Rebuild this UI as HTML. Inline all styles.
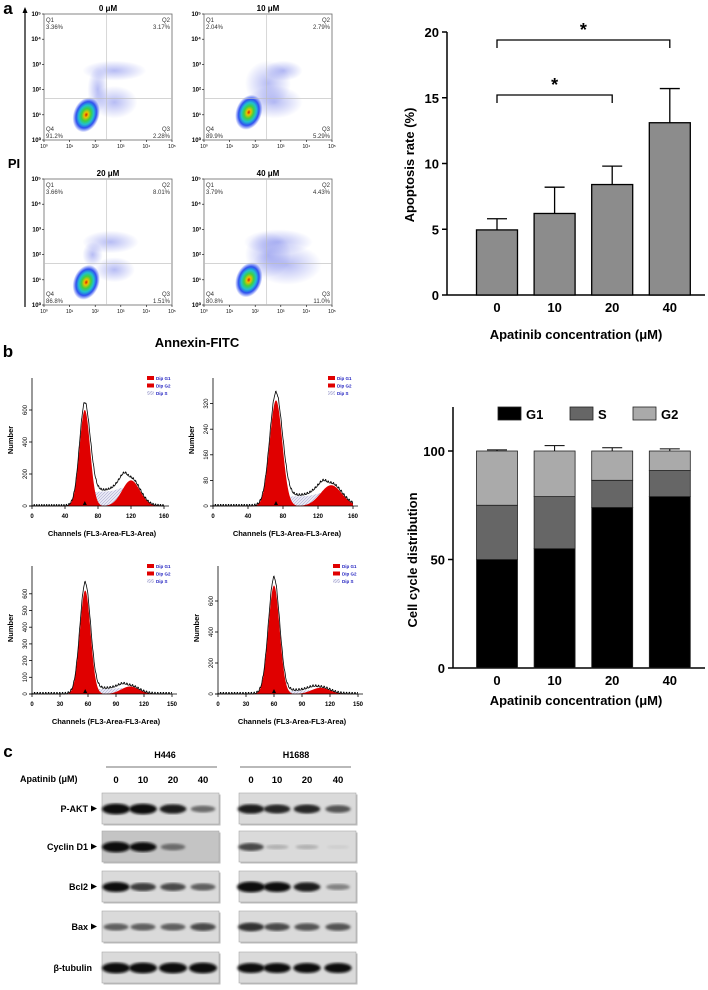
<!DOCTYPE html>
<html><head><meta charset="utf-8"><style>
body{margin:0;background:#fff}
svg{display:block;font-family:"Liberation Sans",Arial,sans-serif}
</style></head><body>
<svg id="fig" width="708" height="990" viewBox="0 0 708 990" xmlns="http://www.w3.org/2000/svg">
<defs>
<radialGradient id="blob"><stop offset="0" stop-color="#d02000"/><stop offset="0.15" stop-color="#f0c000"/><stop offset="0.35" stop-color="#40d040"/><stop offset="0.55" stop-color="#20c0d0"/><stop offset="0.75" stop-color="#3050f0"/><stop offset="1" stop-color="#3050f0" stop-opacity="0"/></radialGradient>
<radialGradient id="cloud"><stop offset="0" stop-color="#3040e0" stop-opacity="0.35"/><stop offset="1" stop-color="#3040e0" stop-opacity="0"/></radialGradient>
<filter id="bl"><feGaussianBlur stdDeviation="1.2"/></filter>
<pattern id="hatch" width="3" height="3" patternUnits="userSpaceOnUse"><rect width="3" height="3" fill="#e8e8f4"/><path d="M0 3L3 0" stroke="#9a9ac8" stroke-width="0.5"/></pattern>
</defs>
<g id="root"></g>
</svg>
<script>
// ---------- data ----------
const apopCats=["0","10","20","40"];
const apopMeans=[4.95,6.2,8.4,13.1];
const apopErr=[0.85,2.0,1.4,2.6];
const apopTicks=[0,5,10,15,20];
const ccCats=["0","10","20","40"];
const ccG1=[50,55,74,79];
const ccS=[25,24,12.5,12];
const ccG2=[25,21,13.5,9];
const ccErrG1=[1,1,1,1.2];
const ccErrS=[1.2,1.2,1,0.6];
const ccErrG2=[0.5,2.5,1.5,1];
const ccTicks=[0,50,100];
const flowTitles=["0 μM","10 μM","20 μM","40 μM"];
const flowQ1=["3.36%","2.04%","3.66%","3.79%"];
const flowQ2=["3.17%","2.79%","8.01%","4.43%"];
const flowQ3=["2.28%","5.29%","1.51%","11.0%"];
const flowQ4=["91.2%","89.9%","86.8%","80.8%"];
const histG1Pos=[64,72,57,60];
const histG1H=[600,330,620,700];
const histG2Pos=[120,135,105,110];
const histG2H=[160,65,45,40];
const histSH=[90,30,30,20];
const blotRows=["P-AKT","Cyclin D1","Bcl2","Bax","β-tubulin"];
const blotH446=[[1,0.95,0.8,0.45],[1,0.85,0.45,0],[0.9,0.65,0.6,0.5],[0.5,0.5,0.5,0.6],[1,1,1,1]];
const blotH1688=[[0.8,0.75,0.75,0.55],[0.6,0.15,0.15,0.02],[1,0.9,0.8,0.35],[0.7,0.6,0.55,0.55],[0.9,0.9,0.9,0.9]];
const blotLanes=["0","10","20","40"];

// ---------- helpers ----------
const NS="http://www.w3.org/2000/svg";
const root=document.getElementById('root');
function el(tag,attrs,parent,text){const e=document.createElementNS(NS,tag);for(const k in attrs)e.setAttribute(k,attrs[k]);if(text!==undefined)e.textContent=text;(parent||root).appendChild(e);return e;}
function txt(x,y,s,size,opts,parent){const o=Object.assign({x:x,y:y,'font-size':size,'text-anchor':'middle',fill:'#000'},opts||{});return el('text',o,parent,s);}
function line(x1,y1,x2,y2,w,c,parent){return el('line',{x1:x1,y1:y1,x2:x2,y2:y2,stroke:c||'#000','stroke-width':w||1},parent);}

let t;
t=txt(8,14,"a",17,{'font-weight':'bold'});
t=txt(8,357,"b",17,{'font-weight':'bold'});
t=txt(8,757,"c",17,{'font-weight':'bold'});

// ---------- flow cytometry ----------
const fg=el('g',{});


line(25,10,25,307,1.2,'#000',fg);
el('path',{d:'M22.5 13 L25 7 L27.5 13Z',fill:'#000'},fg);
t=txt(14,168,"PI",13,{'font-weight':'bold'},fg);
t=txt(197,347,"Annexin-FITC",13,{'font-weight':'bold'},fg);
const boxes=[[44,14],[204,14],[44,179],[204,179]];
const bw=128,bh=126;
const blobs=[[0.33,0.8,[[0.55,0.45,0.25,0.08],[0.42,0.6,0.08,0.18],[0.55,0.7,0.18,0.13]]],
 [0.35,0.78,[[0.62,0.45,0.15,0.08],[0.5,0.55,0.18,0.18],[0.55,0.7,0.22,0.13]]],
 [0.33,0.82,[[0.52,0.5,0.22,0.09],[0.38,0.6,0.08,0.1],[0.55,0.72,0.16,0.1]]],
 [0.35,0.8,[[0.58,0.5,0.27,0.1],[0.65,0.68,0.27,0.16],[0.5,0.6,0.18,0.18]]]];
boxes.forEach((b,i)=>{
  const g=el('g',{},fg);
  
  
  const [x,y]=b;
  el('rect',{x:x,y:y,width:bw,height:bh,fill:'#fff',stroke:'#666','stroke-width':0.8},g);
  blobs[i][2].forEach(c=>el('ellipse',{cx:x+c[0]*bw,cy:y+c[1]*bh,rx:c[2]*bw,ry:c[3]*bh,fill:'url(#cloud)'},g));
  const bx=x+blobs[i][0]*bw,by=y+blobs[i][1]*bh;
  el('ellipse',{cx:bx,cy:by,rx:13,ry:18,fill:'url(#blob)',transform:`rotate(20 ${bx} ${by})`},g);
  line(x+0.49*bw,y,x+0.49*bw,y+bh,0.6,'#bbb',g);
  line(x,y+0.67*bh,x+bw,y+0.67*bh,0.6,'#bbb',g);
  const tt=txt(x+bw/2,y-3,flowTitles[i],8,{'font-weight':'bold'},g);
  
  
  txt(x+2,y+8,"Q1",6,{'text-anchor':'start',fill:'#333'},g);
  txt(x+2,y+15,flowQ1[i],6,{'text-anchor':'start',fill:'#333'},g);
  txt(x+bw-2,y+8,"Q2",6,{'text-anchor':'end',fill:'#333'},g);
  txt(x+bw-2,y+15,flowQ2[i],6,{'text-anchor':'end',fill:'#333'},g);
  txt(x+2,y+bh-9,"Q4",6,{'text-anchor':'start',fill:'#333'},g);
  txt(x+2,y+bh-2,flowQ4[i],6,{'text-anchor':'start',fill:'#333'},g);
  txt(x+bw-2,y+bh-9,"Q3",6,{'text-anchor':'end',fill:'#333'},g);
  txt(x+bw-2,y+bh-2,flowQ3[i],6,{'text-anchor':'end',fill:'#333'},g);
  for(let k=0;k<=5;k++){
    const yy=y+bh-k*bh/5, xx=x+k*bw/5;
    txt(x-3,yy+2,"10"+["⁰","¹","²","³","⁴","⁵"][k],6,{'text-anchor':'end','font-weight':'bold'},g);
    line(x-2,yy,x,yy,0.6,'#000',g);
    txt(xx,y+bh+8,"10"+["⁰","¹","²","³","⁴","⁵"][k],5,{},g);
    line(xx,y+bh,xx,y+bh+2,0.6,'#000',g);
  }
});

// ---------- apoptosis bar chart ----------
const ag=el('g',{});


const aX0=447,aY0=295,aYtop=32;
const ay=v=>aY0-(v/20)*(aY0-aYtop);
const ax=i=>497+i*57.6;
line(aX0,aYtop,aX0,aY0,1.5,'#000',ag);
line(aX0,aY0,705,aY0,1.5,'#000',ag);
apopTicks.forEach(v=>{line(aX0-5,ay(v),aX0,ay(v),1.5,'#000',ag);const l=txt(aX0-8,ay(v)+5,String(v),13,{'text-anchor':'end','font-weight':'bold'},ag);});
apopMeans.forEach((v,i)=>{
  const r=el('rect',{x:ax(i)-20.5,y:ay(v),width:41,height:aY0-ay(v),fill:'#8c8c8c',stroke:'#000','stroke-width':1.3},ag);
  
  
  line(ax(i),ay(v),ax(i),ay(v+apopErr[i]),1.3,'#000',ag);
  line(ax(i)-10,ay(v+apopErr[i]),ax(i)+10,ay(v+apopErr[i]),1.3,'#000',ag);
  const l=txt(ax(i),aY0+17,apopCats[i],13,{'font-weight':'bold'},ag);
});
el('path',{d:`M${ax(0)} 48 V40 H${ax(3)} V48`,fill:'none',stroke:'#000','stroke-width':1.3},ag);
el('path',{d:`M${ax(0)} 103 V95 H${ax(2)} V103`,fill:'none',stroke:'#000','stroke-width':1.3},ag);
t=txt((ax(0)+ax(3))/2,36,"*",18,{'font-weight':'bold'},ag);
t=txt((ax(0)+ax(2))/2,91,"*",18,{'font-weight':'bold'},ag);
t=txt(0,0,"Apoptosis rate (%)",13,{'font-weight':'bold',transform:`translate(414 165) rotate(-90)`},ag);
t=txt(576,339,"Apatinib concentration (μM)",13,{'font-weight':'bold'},ag);

// ---------- histograms ----------
const hg=el('g',{});


const hists=[
 {x0:32,x1:164,cmax:160,base:506,ppu:0.16,ticks:[0,200,400,600],xt:[0,40,80,120,160]},
 {x0:213,x1:353,cmax:160,base:506,ppu:0.32,ticks:[0,80,160,240,320],xt:[0,40,80,120,160]},
 {x0:32,x1:172,cmax:150,base:694,ppu:0.167,ticks:[0,100,200,300,400,500,600],xt:[0,30,60,90,120,150]},
 {x0:218,x1:358,cmax:150,base:694,ppu:0.155,ticks:[0,200,400,600],xt:[0,30,60,90,120,150]}];
const gauss=(c,mu,s)=>Math.exp(-0.5*((c-mu)/s)**2);
hists.forEach((h,i)=>{
  const g=el('g',{},hg);
  
  
  const hx=c=>h.x0+c/h.cmax*(h.x1-h.x0);
  const hy=v=>h.base-v*h.ppu;
  const s1=histG1Pos[i]*0.1,s2=histG2Pos[i]*0.09;
  const sFn=c=>histSH[i]*(1/(1+Math.exp(-(c-histG1Pos[i]-s1)/2)))*(1/(1+Math.exp((c-histG2Pos[i]+s2*0.5)/2)));
  let pG1=`M${hx(0)} ${h.base}`,pG2=pG1,pS=pG1,pT=`M${hx(0)} ${h.base}`;
  for(let c=0;c<=h.cmax;c+=0.5){
    const a=histG1H[i]*gauss(c,histG1Pos[i],s1),b=histG2H[i]*gauss(c,histG2Pos[i],s2),s=sFn(c);
    pG1+=` L${hx(c)} ${hy(a)}`;pG2+=` L${hx(c)} ${hy(b)}`;pS+=` L${hx(c)} ${hy(s+b*0.3)}`;
    pT+=` L${hx(c)} ${hy((a+b+s)*1.07+(Math.round(c)%3===0?histG1H[i]*0.015:0))}`;
  }
  const end=` L${hx(h.cmax)} ${h.base}Z`;
  el('path',{d:pS+end,fill:'url(#hatch)'},g);
  el('path',{d:pG1+end,fill:'#e00000'},g);
  el('path',{d:pG2+end,fill:'#e00000'},g);
  el('path',{d:pT,fill:'none',stroke:'#000','stroke-width':0.8},g);
  line(h.x0-3,h.base,h.x1+5,h.base,0.8,'#000',g);
  line(h.x0,h.base,h.x0,h.base-128,0.8,'#000',g);
  h.ticks.forEach(v=>{line(h.x0-3,hy(v),h.x0,hy(v),0.8,'#000',g);txt(0,0,String(v),6,{transform:`translate(${h.x0-5} ${hy(v)}) rotate(-90)`},g);});
  h.xt.forEach(v=>{line(hx(v),h.base,hx(v),h.base+3,0.8,'#000',g);txt(hx(v),h.base+12,String(v),6,{'font-weight':'bold'},g);});
  el('path',{d:`M${hx(histG1Pos[i])-2} ${h.base-1} l2 -4 l2 4Z`,fill:'#000'},g);
  const lt=txt((h.x0+h.x1)/2+4,h.base+30,"Channels (FL3-Area-FL3-Area)",7.5,{'font-weight':'bold'},g);
  
  
  txt(0,0,"Number",7.5,{'font-weight':'bold',transform:`translate(${h.x0-19} ${h.base-66}) rotate(-90)`},g);
  const lx=h.x0+115,ly=h.base-126;
  [["Dip G1","#e00000"],["Dip G2","#e00000"],["Dip S","url(#hatch)"]].forEach((e,k)=>{
    el('rect',{x:lx,y:ly+k*7.5-4,width:7,height:4,fill:e[1]},g);
    txt(lx+9,ly+k*7.5,e[0],4.5,{'text-anchor':'start',fill:'#2020c0','font-weight':'bold'},g);
  });
});

// ---------- cell cycle stacked chart ----------
const cg=el('g',{});


const cX0=453,cY0=668,cYtop=407;
const cy=v=>cY0-v*(cY0-451)/100;
const cx=i=>497+i*57.6;
line(cX0,cYtop,cX0,cY0,1.5,'#000',cg);
line(cX0,cY0,705,cY0,1.5,'#000',cg);
ccTicks.forEach(v=>{line(cX0-5,cy(v),cX0,cy(v),1.5,'#000',cg);const l=txt(cX0-8,cy(v)+5,String(v),13,{'text-anchor':'end','font-weight':'bold'},cg);});
ccCats.forEach((c,i)=>{
  const segs=[[0,ccG1[i],'#000',ccErrG1[i],'g1'],[ccG1[i],ccG1[i]+ccS[i],'#666',ccErrS[i],'s'],[ccG1[i]+ccS[i],ccG1[i]+ccS[i]+ccG2[i],'#aaa',ccErrG2[i],'g2']];
  segs.forEach(s=>{
    const r=el('rect',{x:cx(i)-20.5,y:cy(s[1]),width:41,height:cy(s[0])-cy(s[1]),fill:s[2],stroke:'#222','stroke-width':0.8},cg);
    
    
    line(cx(i),cy(s[1]),cx(i),cy(s[1]+s[3]),1,'#000',cg);
    line(cx(i)-10,cy(s[1]+s[3]),cx(i)+10,cy(s[1]+s[3]),1,'#000',cg);
  });
  const l=txt(cx(i),cY0+17,c,13,{'font-weight':'bold'},cg);
});
[["G1",498,'#000'],["S",570,'#666'],["G2",633,'#aaa']].forEach(e=>{
  const g=el('g',{},cg);
  
  
  el('rect',{x:e[1],y:407,width:23,height:13,fill:e[2],stroke:'#222','stroke-width':0.8},g);
  txt(e[1]+28,419,e[0],13,{'text-anchor':'start','font-weight':'bold'},g);
});
t=txt(0,0,"Cell cycle distribution",13,{'font-weight':'bold',transform:`translate(417 560) rotate(-90)`},cg);
t=txt(576,705,"Apatinib concentration (μM)",13,{'font-weight':'bold'},cg);

// ---------- western blots ----------
const wg=el('g',{});


t=txt(165,758,"H446",9,{'font-weight':'bold'},wg);
t=txt(296,758,"H1688",9,{'font-weight':'bold'},wg);
line(106,767,217,767,0.8,'#444',wg);line(240,767,351,767,0.8,'#444',wg);
txt(20,782,"Apatinib (μM)",9,{'text-anchor':'start','font-weight':'bold'},wg);
const laneX=[[116,143,173,203],[251,277,307,338]];
laneX.forEach(L=>L.forEach((x,k)=>txt(x,783,blotLanes[k],9.5,{'font-weight':'bold'},wg)));
const rowY=[793,831,871,911,952];
const boxX=[102,239];
[blotH446,blotH1688].forEach((data,bi)=>{
  rowY.forEach((yy,r)=>{
    const g=el('g',{},wg);
    
    
    el('rect',{x:boxX[bi]+1.5,y:yy+1.5,width:117,height:31,fill:'#bbb'},g);
    el('rect',{x:boxX[bi],y:yy,width:117,height:31,fill:r===1&&bi===0?'#c4c4c4':'#dadada',stroke:'#aaa','stroke-width':0.6},g);
    data[r].forEach((v,k)=>{
      if(v<=0.01)return;
      const shade=Math.max(10,Math.round(210-v*230));
      el('ellipse',{cx:laneX[bi][k],cy:yy+16,rx:11+v*3,ry:1.8+v*3.6,fill:`rgb(${shade},${shade},${shade})`,filter:'url(#bl)'},g);
    });
  });
});
blotRows.forEach((n,r)=>{
  const l=txt(r===4?92:88,rowY[r]+19,n,9,{'text-anchor':'end','font-weight':'bold'},wg);
  
  
  if(r<4)el('path',{d:`M91 ${rowY[r]+12.5} l6 3 l-6 3Z`,fill:'#000'},wg);
});
</script>
</body></html>
